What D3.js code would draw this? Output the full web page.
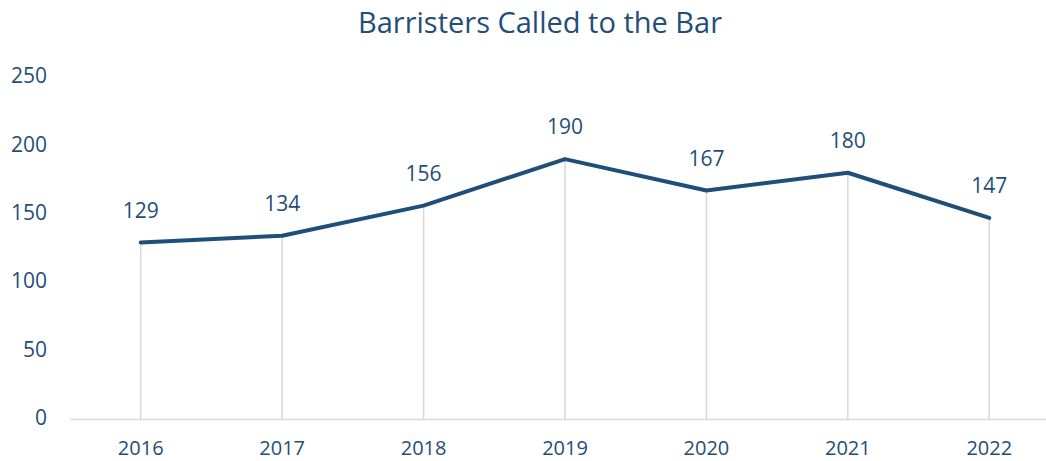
<!DOCTYPE html>
<html lang="en">
<head>
<meta charset="utf-8">
<title>Barristers Called to the Bar</title>
<style>
    body { margin: 0; background: #fff; }
    text { font-family: 'Open Sans', sans-serif; fill: #1F4E79; }
    .title { font-size: 29px; }
    .tick text { font-size: 21px; }
    .x-axis .tick text { font-size: 20px; }
    .label { font-size: 21px; }
</style>
</head>
<body>
<script src="https://cdn.jsdelivr.net/npm/d3@7"></script>
<script>
    // chart data
    let years = ["2016", "2017", "2018", "2019", "2020", "2021", "2022"];
    let called = [129, 134, 156, 190, 167, 180, 147];
    let yTicks = [0, 50, 100, 150, 200, 250];

    let width = 1046, height = 461;
    let margin = {top: 77, right: -14, bottom: 42, left: 70};

    let svg = d3.select("body").append("svg")
        .attr("width", width)
        .attr("height", height);

    let x = d3.scaleBand()
        .domain(years)
        .range([margin.left, width - margin.right]);

    let y = d3.scaleLinear()
        .domain([0, 250])
        .range([height - margin.bottom, margin.top]);

    let data = years.map(function(yr, i) { return {year: yr, value: called[i]}; });
    let cx = function(d) { return x(d.year) + x.bandwidth() / 2; };

    // title
    svg.append("text")
        .attr("class", "title")
        .attr("x", 540)
        .attr("y", 33)
        .attr("text-anchor", "middle")
        .text("Barristers Called to the Bar");

    // y axis labels only
    let yAxis = svg.append("g")
        .attr("transform", "translate(" + 47 + ",0)")
        .call(d3.axisLeft(y).tickValues(yTicks).tickSize(0).tickPadding(0));
    yAxis.select(".domain").remove();
    yAxis.selectAll("text").attr("dy", "0.27em");

    // drop lines
    svg.append("g").selectAll("line")
        .data(data)
        .enter().append("line")
        .attr("x1", cx).attr("x2", cx)
        .attr("y1", function(d) { return y(d.value); })
        .attr("y2", y(0))
        .attr("stroke", "#D9D9D9")
        .attr("stroke-width", 1.5);

    // x axis
    let xAxis = svg.append("g")
        .attr("class", "x-axis")
        .attr("transform", "translate(0," + y(0) + ")")
        .call(d3.axisBottom(x).tickSize(0).tickPadding(0));
    xAxis.select(".domain").attr("stroke", "#D9D9D9").attr("stroke-width", 1.5);
    xAxis.selectAll("text").attr("dy", null).attr("y", 36);

    // line
    let line = d3.line()
        .x(cx)
        .y(function(d) { return y(d.value); });

    svg.append("path")
        .datum(data)
        .attr("d", line)
        .attr("fill", "none")
        .attr("stroke", "#1F4E79")
        .attr("stroke-width", 4)
        .attr("stroke-linejoin", "round")
        .attr("stroke-linecap", "round");

    // data labels
    svg.append("g").selectAll("text")
        .data(data)
        .enter().append("text")
        .attr("class", "label")
        .attr("x", cx)
        .attr("y", function(d) { return y(d.value) - 25; })
        .attr("text-anchor", "middle")
        .text(function(d) { return d.value; });
</script>
</body>
</html>
